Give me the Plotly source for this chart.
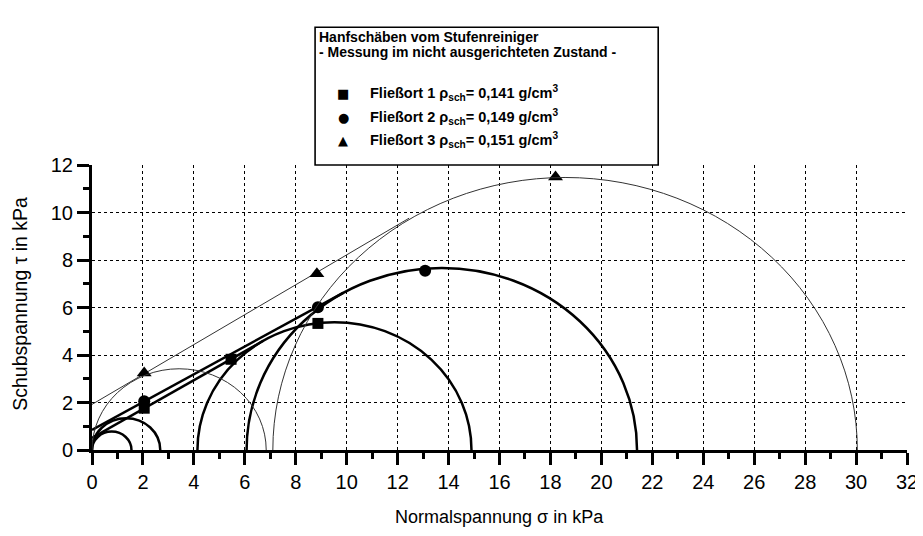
import plotly.graph_objects as go

# ---------------- data ----------------
# Measured points (sigma, tau) in kPa
sigma_fo1 = [2.05, 5.46, 8.87]
tau_fo1 = [1.76, 3.82, 5.33]
sigma_fo2 = [2.05, 8.87, 13.08]
tau_fo2 = [2.05, 6.01, 7.55]
sigma_fo3 = [2.05, 8.83, 18.2]
tau_fo3 = [3.24, 7.42, 11.49]

# Mohr circles: (sigma_min, sigma_max) in kPa
circles_fo1 = [(0.0, 1.55), (4.14, 14.9)]
circles_fo2 = [(0.0, 2.68), (6.07, 21.4)]
circles_fo3 = [(0.0, 6.84), (7.1, 30.05)]

# Yield loci (start / tangent end points)
locus_sigma_fo1 = [0.0, 6.73]
locus_tau_fo1 = [0.51, 4.60]
locus_sigma_fo2 = [0.0, 9.86]
locus_tau_fo2 = [0.85, 6.62]
locus_sigma_fo3 = [0.0, 12.45]
locus_tau_fo3 = [1.92, 9.76]

x_ticks = list(range(0, 33, 2))
y_ticks = list(range(0, 13, 2))

legend_title = ["Hanfschäben vom Stufenreiniger",
                "- Messung im nicht ausgerichteten Zustand -"]
legend_labels = ["Fließort 1 ρ<sub>sch</sub>= 0,141 g/cm<sup>3</sup>",
                 "Fließort 2 ρ<sub>sch</sub>= 0,149 g/cm<sup>3</sup>",
                 "Fließort 3 ρ<sub>sch</sub>= 0,151 g/cm<sup>3</sup>"]
legend_symbols = ["■", "●", "▲"]

# ---------------- layout geometry ----------------
OFF = 8  # default page body margin
W, H = 923 - OFF, 536 - OFF
L, R, T, B = 92 - OFF, 16.3, 165 - OFF, 85.5
PW, PH = W - L - R, H - T - B
FONT = "Liberation Sans, Arial, Helvetica, sans-serif"


def px(xp):
    return (xp - OFF - L) / PW


def py(yp):
    return (T + PH - (yp - OFF)) / PH


fig = go.Figure()

series = [
    (sigma_fo1, tau_fo1, "square", 11, circles_fo1, locus_sigma_fo1, locus_tau_fo1, 2.5, "black"),
    (sigma_fo2, tau_fo2, "circle", 12, circles_fo2, locus_sigma_fo2, locus_tau_fo2, 2.5, "black"),
    (sigma_fo3, tau_fo3, "triangle-up", 13, circles_fo3, locus_sigma_fo3, locus_tau_fo3, 1.0, "#333333"),
]

for i, (sx, ty, sym, msz, circs, lx, ly, lw, lc) in enumerate(series):
    # yield locus line
    fig.add_trace(go.Scatter(x=lx, y=ly, mode="lines",
                             line=dict(color=lc, width=lw), showlegend=False,
                             hoverinfo="skip"))
    # Mohr circles (upper half visible, clipped at tau = 0)
    for s1, s2 in circs:
        r = (s2 - s1) / 2
        fig.add_shape(type="circle", xref="x", yref="y",
                      x0=s1, x1=s2, y0=-r, y1=r,
                      line=dict(color=lc, width=lw), layer="above")
    # measurement points
    fig.add_trace(go.Scatter(x=sx, y=ty, mode="markers",
                             marker=dict(symbol=sym, size=msz, color="black"),
                             showlegend=False, cliponaxis=False))

axis_common = dict(
    ticks="outside", ticklen=12, tickwidth=2.5, tickcolor="black",
    showline=True, linewidth=3, linecolor="black",
    showgrid=True, gridcolor="black", griddash="dot", gridwidth=1.3,
    zeroline=False, tickfont=dict(family=FONT, size=20, color="black"),
    minor=dict(dtick=1, ticks="outside", ticklen=6, tickwidth=2.5,
               tickcolor="black", showgrid=False),
)

fig.update_xaxes(range=[0, 32], tickmode="array", tickvals=x_ticks, **axis_common)
fig.update_yaxes(range=[0, 12], tickmode="array", tickvals=y_ticks, **axis_common)

# axis titles
fig.add_annotation(xref="paper", yref="paper", x=px(499), y=py(518),
                   text="Normalspannung σ in kPa", showarrow=False,
                   font=dict(family=FONT, size=18, color="black"),
                   xanchor="center", yanchor="middle")
fig.add_annotation(xref="paper", yref="paper", x=px(20), y=py(304),
                   text="Schubspannung τ in kPa", showarrow=False, textangle=-90,
                   font=dict(family=FONT, size=19.5, color="black"),
                   xanchor="center", yanchor="middle")

# legend box
fig.add_shape(type="rect", xref="paper", yref="paper",
              x0=px(315), x1=px(658), y0=py(165), y1=py(27),
              line=dict(color="black", width=1.6), fillcolor="white", layer="above")
for k, (txt, yp) in enumerate(zip(legend_title, [37, 52])):
    fig.add_annotation(xref="paper", yref="paper", x=px(317), y=py(yp),
                       text="<b>" + txt + "</b>", showarrow=False,
                       font=dict(family=FONT, size=14, color="black"),
                       xanchor="left", yanchor="middle")
for sym, lab, yp in zip(legend_symbols, legend_labels, [93, 117, 140]):
    fig.add_annotation(xref="paper", yref="paper", x=px(343), y=py(yp),
                       text=sym, showarrow=False,
                       font=dict(family="DejaVu Sans", size=13, color="black"),
                       xanchor="center", yanchor="middle")
    fig.add_annotation(xref="paper", yref="paper", x=px(368), y=py(yp),
                       text="<b>" + lab + "</b>", showarrow=False,
                       font=dict(family=FONT, size=14.5, color="black"),
                       xanchor="left", yanchor="middle")

fig.update_layout(
    width=W, height=H,
    margin=dict(l=L, r=R, t=T, b=B, autoexpand=False),
    paper_bgcolor="white", plot_bgcolor="white",
    showlegend=False,
    font=dict(family=FONT, color="black"),
)

fig.write_html("out.html")
